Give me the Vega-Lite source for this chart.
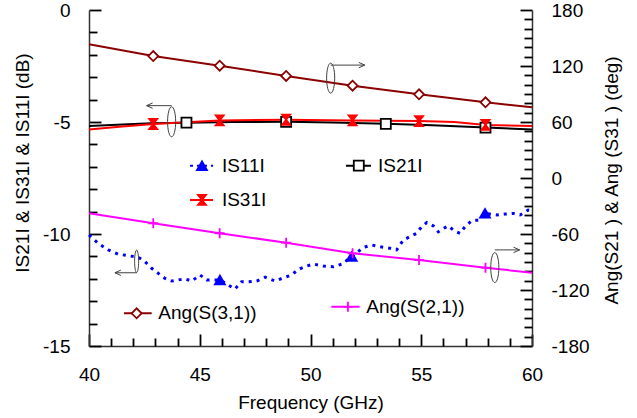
{
"$schema":"https://vega.github.io/schema/vega-lite/v6.json",
"width":443,"height":336,
"autosize":{"type":"none"},
"padding":{"left":89,"top":10,"right":105,"bottom":72},
"config":{
 "font":"Liberation Sans",
 "view":{"stroke":null},
 "axis":{"grid":false,"ticks":true,"labelFont":"Liberation Sans","labelFontSize":19,"labelColor":"#000","titleFont":"Liberation Sans","titleFontSize":19,"titleFontWeight":"normal","titleColor":"#000","domainColor":"#333333","tickColor":"#000000","domainWidth":1.5,"tickWidth":1.8,"labelFlush":false,"labelOverlap":false}
},
"datasets":{
 "curves":[
  {"s":"S11","f":40.0,"v":-10.04},{"s":"S11","f":40.42,"v":-10.42},{"s":"S11","f":40.87,"v":-10.71},{"s":"S11","f":41.32,"v":-10.9},{"s":"S11","f":41.77,"v":-10.97},{"s":"S11","f":42.23,"v":-11.04},{"s":"S11","f":42.53,"v":-11.24},{"s":"S11","f":42.83,"v":-11.53},{"s":"S11","f":43.13,"v":-11.76},{"s":"S11","f":43.43,"v":-11.98},{"s":"S11","f":43.73,"v":-12.1},{"s":"S11","f":44.03,"v":-12.05},{"s":"S11","f":44.33,"v":-12.0},{"s":"S11","f":44.64,"v":-12.1},{"s":"S11","f":45.01,"v":-11.83},{"s":"S11","f":45.31,"v":-12.05},{"s":"S11","f":45.91,"v":-12.05,"m":1},{"s":"S11","f":46.29,"v":-12.28},{"s":"S11","f":46.59,"v":-12.46},{"s":"S11","f":46.89,"v":-12.13},{"s":"S11","f":47.19,"v":-12.13},{"s":"S11","f":47.57,"v":-12.1},{"s":"S11","f":47.95,"v":-11.93},{"s":"S11","f":48.4,"v":-12.1},{"s":"S11","f":48.85,"v":-11.93},{"s":"S11","f":49.15,"v":-11.83},{"s":"S11","f":49.45,"v":-11.58},{"s":"S11","f":49.83,"v":-11.43},{"s":"S11","f":50.13,"v":-11.34},{"s":"S11","f":50.58,"v":-11.43},{"s":"S11","f":51.03,"v":-11.46},{"s":"S11","f":51.41,"v":-11.35},{"s":"S11","f":51.86,"v":-11.01,"m":1},{"s":"S11","f":52.39,"v":-10.6},{"s":"S11","f":52.76,"v":-10.49},{"s":"S11","f":53.14,"v":-10.57},{"s":"S11","f":53.59,"v":-10.64},{"s":"S11","f":53.89,"v":-10.71},{"s":"S11","f":54.19,"v":-10.27},{"s":"S11","f":54.49,"v":-10.12},{"s":"S11","f":54.79,"v":-9.97},{"s":"S11","f":55.02,"v":-9.67},{"s":"S11","f":55.25,"v":-9.49},{"s":"S11","f":55.55,"v":-9.64},{"s":"S11","f":55.77,"v":-9.9},{"s":"S11","f":56.0,"v":-9.75},{"s":"S11","f":56.22,"v":-9.64},{"s":"S11","f":56.48,"v":-9.85},{"s":"S11","f":56.75,"v":-9.97},{"s":"S11","f":56.98,"v":-9.67},{"s":"S11","f":57.28,"v":-9.4},{"s":"S11","f":57.65,"v":-9.38},{"s":"S11","f":57.88,"v":-9.08,"m":1},{"s":"S11","f":58.41,"v":-9.15},{"s":"S11","f":58.78,"v":-9.11},{"s":"S11","f":59.16,"v":-9.08},{"s":"S11","f":59.46,"v":-9.15},{"s":"S11","f":59.83,"v":-8.93},{"s":"S11","f":60.0,"v":-8.95},
  {"s":"S21","f":40.0,"v":-5.18},{"s":"S21","f":42.8,"v":-5.06},{"s":"S21","f":44.4,"v":-5.03,"m":1},{"s":"S21","f":46.5,"v":-5.0},{"s":"S21","f":48.9,"v":-4.99,"m":1},{"s":"S21","f":51.0,"v":-5.02},{"s":"S21","f":53.4,"v":-5.08,"m":1},{"s":"S21","f":55.5,"v":-5.15},{"s":"S21","f":57.9,"v":-5.25,"m":1},{"s":"S21","f":60.0,"v":-5.33},
  {"s":"S31","f":40.0,"v":-5.33},{"s":"S31","f":41.5,"v":-5.2},{"s":"S31","f":42.9,"v":-5.09,"m":1},{"s":"S31","f":45.9,"v":-4.93,"m":1},{"s":"S31","f":48.9,"v":-4.9,"m":1},{"s":"S31","f":51.9,"v":-4.93,"m":1},{"s":"S31","f":54.9,"v":-4.96,"m":1},{"s":"S31","f":56.5,"v":-5.0},{"s":"S31","f":57.9,"v":-5.13,"m":1},{"s":"S31","f":60.0,"v":-5.18},
  {"s":"A31","f":40.0,"v":143.2},{"s":"A31","f":42.9,"v":130.7,"m":1},{"s":"A31","f":45.9,"v":120.3,"m":1},{"s":"A31","f":48.9,"v":109.3,"m":1},{"s":"A31","f":51.9,"v":98.9,"m":1},{"s":"A31","f":54.9,"v":89.7,"m":1},{"s":"A31","f":57.9,"v":81.1,"m":1},{"s":"A31","f":60.0,"v":75.8},
  {"s":"A21","f":40.0,"v":-37.8},{"s":"A21","f":42.9,"v":-48.5,"m":1},{"s":"A21","f":45.9,"v":-59.2,"m":1},{"s":"A21","f":48.9,"v":-69.3,"m":1},{"s":"A21","f":51.9,"v":-80.7,"m":1},{"s":"A21","f":54.9,"v":-87.9,"m":1},{"s":"A21","f":57.9,"v":-96.1,"m":1},{"s":"A21","f":60.0,"v":-101.5}
 ],
 "leg":[
  {"s":"S11","x1":44.56,"x2":45.6,"xm":45.1,"xt":46.0,"y":-6.95,"label":"IS11I"},
  {"s":"S31","x1":44.56,"x2":45.6,"xm":45.1,"xt":46.0,"y":-8.48,"label":"IS31I"},
  {"s":"S21","x1":51.6,"x2":52.73,"xm":52.18,"xt":53.05,"y":-6.95,"label":"IS21I"},
  {"s":"A31","x1":41.58,"x2":42.83,"xm":42.15,"xt":43.13,"y":-13.54,"label":"Ang(S(3,1))"},
  {"s":"A21","x1":50.94,"x2":52.22,"xm":51.69,"xt":52.52,"y":-13.25,"label":"Ang(S(2,1))"}
 ],
 "ellBig":[{"x":50.91,"y":-3.04},{"x":43.73,"y":-4.99},{"x":58.32,"y":-11.5}],
 "ellSmall":[{"x":42.15,"y":-11.22}],
 "arr":[
  {"x":50.91,"x2":52.45,"y":-2.46,"d":"r"},
  {"x":43.73,"x2":42.6,"y":-4.27,"d":"l"},
  {"x":42.15,"x2":41.17,"y":-11.73,"d":"l"},
  {"x":58.32,"x2":59.44,"y":-10.71,"d":"r"}
 ]
},
"layer":[
 {"data":{"name":"curves"},"transform":[{"filter":"datum.s==='A31'||datum.s==='A21'"}],
  "mark":{"type":"line","strokeWidth":2},
  "encoding":{
   "x":{"field":"f","type":"quantitative","scale":{"domain":[40,60],"nice":false,"zero":false},
        "axis":{"orient":"bottom","values":[40,45,50,55,60],"tickSize":-12,"labelPadding":31,"labelExpr":"'' + datum.value","title":"Frequency (GHz)","titleX":221.5,"titleY":62,"titleAlign":"center","titleBaseline":"alphabetic"}},
   "y":{"field":"v","type":"quantitative","scale":{"domain":[-180,180],"nice":false,"zero":false},
        "axis":{"orient":"right","values":[-180,-120,-60,0,60,120,180],"tickSize":-12,"labelPadding":31,"labelExpr":"'' + datum.value","title":"Ang(S21 ) & Ang (S31 )  (deg)","titleAngle":270,"titleX":85,"titleY":170,"titleAlign":"center","titleBaseline":"alphabetic"}},
   "color":{"field":"s","type":"nominal","scale":{"domain":["S11","S21","S31","A31","A21"],"range":["#0000ff","#000000","#ff0000","#8b0000","#ff00ff"]},"legend":null}
  }},
 {"data":{"name":"curves"},"transform":[{"filter":"datum.s==='S21'||datum.s==='S31'"}],
  "mark":{"type":"line","strokeWidth":2},
  "encoding":{
   "x":{"field":"f","type":"quantitative","scale":{"domain":[40,60],"nice":false,"zero":false},"axis":null},
   "y":{"field":"v","type":"quantitative","scale":{"domain":[-15,0],"nice":false,"zero":false},
        "axis":{"orient":"left","values":[-15,-10,-5,0],"tickSize":-12,"labelPadding":31,"labelExpr":"'' + datum.value","title":"IS21I  & IS31I & IS11I  (dB)","titleAngle":270,"titleX":-61,"titleY":152.5,"titleAlign":"center","titleBaseline":"alphabetic"}},
   "color":{"field":"s","type":"nominal","scale":{"domain":["S11","S21","S31","A31","A21"],"range":["#0000ff","#000000","#ff0000","#8b0000","#ff00ff"]},"legend":null}
  }},
 {"data":{"name":"curves"},"transform":[{"filter":"datum.s==='S11'"}],
  "mark":{"type":"line","strokeWidth":3,"color":"#0000ff","strokeDash":[3,5],"strokeCap":"butt"},
  "encoding":{
   "x":{"field":"f","type":"quantitative","scale":{"domain":[40,60],"nice":false,"zero":false},
        "axis":{"orient":"bottom","values":[41,42,43,44,46,47,48,49,51,52,53,54,56,57,58,59],"tickSize":-8,"labels":false,"domain":false,"title":null}},
   "y":{"field":"v","type":"quantitative","scale":{"domain":[-15,0],"nice":false,"zero":false},
        "axis":{"orient":"left","values":[-14,-13,-12,-11,-9,-8,-7,-6,-4,-3,-2,-1],"tickSize":-8,"labels":false,"domain":false,"title":null}}
  }},
 {"data":{"name":"curves"},"transform":[{"filter":"datum.m===1 && (datum.s==='S11'||datum.s==='S21'||datum.s==='S31')"}],
  "mark":{"type":"point","opacity":1,"strokeWidth":1.8},
  "encoding":{
   "x":{"field":"f","type":"quantitative","scale":{"domain":[40,60],"nice":false,"zero":false},"axis":null},
   "y":{"field":"v","type":"quantitative","scale":{"domain":[-15,0],"nice":false,"zero":false},"axis":null},
   "shape":{"field":"s","type":"nominal","scale":{"domain":["S11","S21","S31","A31","A21"],"range":["triangle-up","square","M-0.8,-1L0.8,-1L-0.8,1L0.8,1Z","diamond","M-1,0L1,0M0,-1L0,1"]},"legend":null},
   "stroke":{"field":"s","type":"nominal","scale":{"domain":["S11","S21","S31","A31","A21"],"range":["#0000ff","#000000","#ff0000","#8b0000","#ff00ff"]},"legend":null},
   "fill":{"field":"s","type":"nominal","scale":{"domain":["S11","S21","S31","A31","A21"],"range":["#0000ff","#ffffff","#ff0000","#ffffff","transparent"]},"legend":null},
   "size":{"field":"s","type":"nominal","scale":{"domain":["S11","S21","S31","A31","A21"],"range":[100,100,45,60,150]},"legend":null}
  }},
 {"data":{"name":"curves"},"transform":[{"filter":"datum.m===1 && (datum.s==='A31'||datum.s==='A21')"}],
  "mark":{"type":"point","opacity":1,"strokeWidth":1.8},
  "encoding":{
   "x":{"field":"f","type":"quantitative","scale":{"domain":[40,60],"nice":false,"zero":false},"axis":null},
   "y":{"field":"v","type":"quantitative","scale":{"domain":[-180,180],"nice":false,"zero":false},
        "axis":{"orient":"right","values":[-170,-160,-150,-140,-130,-110,-100,-90,-80,-70,-50,-40,-30,-20,-10,10,20,30,40,50,70,80,90,100,110,130,140,150,160,170],"tickSize":-8,"labels":false,"domain":false,"title":null}},
   "shape":{"field":"s","type":"nominal","scale":{"domain":["S11","S21","S31","A31","A21"],"range":["triangle-up","square","M-0.8,-1L0.8,-1L-0.8,1L0.8,1Z","diamond","M-1,0L1,0M0,-1L0,1"]},"legend":null},
   "stroke":{"field":"s","type":"nominal","scale":{"domain":["S11","S21","S31","A31","A21"],"range":["#0000ff","#000000","#ff0000","#8b0000","#ff00ff"]},"legend":null},
   "fill":{"field":"s","type":"nominal","scale":{"domain":["S11","S21","S31","A31","A21"],"range":["#0000ff","#ffffff","#ff0000","#ffffff","transparent"]},"legend":null},
   "size":{"field":"s","type":"nominal","scale":{"domain":["S11","S21","S31","A31","A21"],"range":[100,100,45,60,150]},"legend":null}
  }},
 {"data":{"name":"leg"},
  "mark":{"type":"rule","strokeWidth":2},
  "encoding":{
   "x":{"field":"x1","type":"quantitative","scale":{"domain":[40,60],"nice":false,"zero":false},"axis":null},
   "x2":{"field":"x2"},
   "y":{"field":"y","type":"quantitative","scale":{"domain":[-15,0],"nice":false,"zero":false},"axis":null},
   "color":{"field":"s","type":"nominal","scale":{"domain":["S11","S21","S31","A31","A21"],"range":["#0000ff","#000000","#ff0000","#8b0000","#ff00ff"]},"legend":null},
   "strokeDash":{"field":"s","type":"nominal","scale":{"domain":["S11","S21","S31","A31","A21"],"range":[[3,4],[1,0],[1,0],[1,0],[1,0]]},"legend":null}
  }},
 {"data":{"name":"leg"},
  "mark":{"type":"point","opacity":1,"strokeWidth":1.8},
  "encoding":{
   "x":{"field":"xm","type":"quantitative","scale":{"domain":[40,60],"nice":false,"zero":false},"axis":null},
   "y":{"field":"y","type":"quantitative","scale":{"domain":[-15,0],"nice":false,"zero":false},"axis":null},
   "shape":{"field":"s","type":"nominal","scale":{"domain":["S11","S21","S31","A31","A21"],"range":["triangle-up","square","M-0.8,-1L0.8,-1L-0.8,1L0.8,1Z","diamond","M-1,0L1,0M0,-1L0,1"]},"legend":null},
   "stroke":{"field":"s","type":"nominal","scale":{"domain":["S11","S21","S31","A31","A21"],"range":["#0000ff","#000000","#ff0000","#8b0000","#ff00ff"]},"legend":null},
   "fill":{"field":"s","type":"nominal","scale":{"domain":["S11","S21","S31","A31","A21"],"range":["#0000ff","#ffffff","#ff0000","#ffffff","transparent"]},"legend":null},
   "size":{"field":"s","type":"nominal","scale":{"domain":["S11","S21","S31","A31","A21"],"range":[100,100,45,60,150]},"legend":null}
  }},
 {"data":{"name":"leg"},
  "mark":{"type":"text","align":"left","baseline":"middle","fontSize":19,"font":"Liberation Sans","color":"#000"},
  "encoding":{
   "x":{"field":"xt","type":"quantitative","scale":{"domain":[40,60],"nice":false,"zero":false},"axis":null},
   "y":{"field":"y","type":"quantitative","scale":{"domain":[-15,0],"nice":false,"zero":false},"axis":null},
   "text":{"field":"label","type":"nominal"}
  }},
 {"data":{"name":"ellBig"},
  "mark":{"type":"point","opacity":1,"strokeWidth":1,"stroke":"#404040","fill":"transparent","size":900,"shape":"M0,-1C0.149,-1 0.27,-0.552 0.27,0C0.27,0.552 0.149,1 0,1C-0.149,1 -0.27,0.552 -0.27,0C-0.27,-0.552 -0.149,-1 0,-1Z"},
  "encoding":{
   "x":{"field":"x","type":"quantitative","scale":{"domain":[40,60],"nice":false,"zero":false},"axis":null},
   "y":{"field":"y","type":"quantitative","scale":{"domain":[-15,0],"nice":false,"zero":false},"axis":null}
  }},
 {"data":{"name":"ellSmall"},
  "mark":{"type":"point","opacity":1,"strokeWidth":1,"stroke":"#404040","fill":"transparent","size":500,"shape":"M0,-1C0.1,-1 0.18,-0.552 0.18,0C0.18,0.552 0.1,1 0,1C-0.1,1 -0.18,0.552 -0.18,0C-0.18,-0.552 -0.1,-1 0,-1Z"},
  "encoding":{
   "x":{"field":"x","type":"quantitative","scale":{"domain":[40,60],"nice":false,"zero":false},"axis":null},
   "y":{"field":"y","type":"quantitative","scale":{"domain":[-15,0],"nice":false,"zero":false},"axis":null}
  }},
 {"data":{"name":"arr"},
  "mark":{"type":"rule","strokeWidth":1,"color":"#404040"},
  "encoding":{
   "x":{"field":"x","type":"quantitative","scale":{"domain":[40,60],"nice":false,"zero":false},"axis":null},
   "x2":{"field":"x2"},
   "y":{"field":"y","type":"quantitative","scale":{"domain":[-15,0],"nice":false,"zero":false},"axis":null}
  }},
 {"data":{"name":"arr"},"transform":[{"filter":"datum.d==='r'"}],
  "mark":{"type":"point","opacity":1,"strokeWidth":1,"stroke":"#404040","fill":"transparent","size":144,"shape":"M-1,-0.45L0,0L-1,0.45"},
  "encoding":{
   "x":{"field":"x2","type":"quantitative","scale":{"domain":[40,60],"nice":false,"zero":false},"axis":null},
   "y":{"field":"y","type":"quantitative","scale":{"domain":[-15,0],"nice":false,"zero":false},"axis":null}
  }},
 {"data":{"name":"arr"},"transform":[{"filter":"datum.d==='l'"}],
  "mark":{"type":"point","opacity":1,"strokeWidth":1,"stroke":"#404040","fill":"transparent","size":144,"shape":"M1,-0.45L0,0L1,0.45"},
  "encoding":{
   "x":{"field":"x2","type":"quantitative","scale":{"domain":[40,60],"nice":false,"zero":false},"axis":null},
   "y":{"field":"y","type":"quantitative","scale":{"domain":[-15,0],"nice":false,"zero":false},"axis":null}
  }}
],
"resolve":{"scale":{"y":"independent"},"axis":{"x":"independent","y":"independent"}}
}
